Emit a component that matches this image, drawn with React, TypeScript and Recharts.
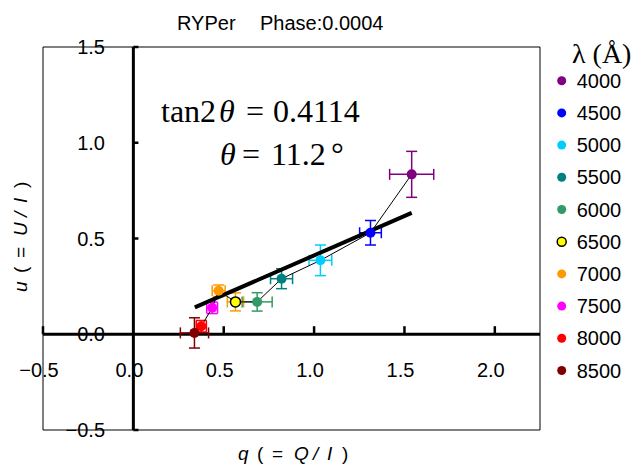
import React from 'react';
import {
  ScatterChart,
  Scatter,
  XAxis,
  YAxis,
  ErrorBar,
  ReferenceLine,
  ReferenceArea,
  Legend,
  Customized,
} from 'recharts';

// wavelength bins (Angstrom)
const wavelengths = ['4000', '4500', '5000', '5500', '6000', '6500', '7000', '7500', '8000', '8500'];
const colors = ['#800080', '#0000ff', '#00ccff', '#008080', '#339966', '#ffff00', '#ff9900', '#ff00ff', '#ff0000', '#800000'];
const errColors = ['#800080', '#0000ff', '#00ccff', '#008080', '#339966', '#f0a000', '#ff9900', '#ff00ff', '#ff0000', '#800000'];

// q = Q/I, u = U/I and their errors
const qVals = [1.54, 1.312, 1.035, 0.82, 0.685, 0.565, 0.472, 0.436, 0.376, 0.338];
const uVals = [0.835, 0.53, 0.386, 0.29, 0.169, 0.169, 0.227, 0.138, 0.042, 0.007];
const qErr = [0.122, 0.06, 0.063, 0.061, 0.083, 0.045, 0.036, 0.03, 0.028, 0.078];
const uErr = [0.12, 0.064, 0.08, 0.052, 0.048, 0.047, 0.03, 0.03, 0.03, 0.079];

// fitted line end points
const fitQ = [0.34, 1.54];
const fitU = [0.14, 0.634];

const xTicks = [-0.5, 0, 0.5, 1, 1.5, 2];
const yTicks = [-0.5, 0, 0.5, 1, 1.5];
const xTickMarks = [-0.5, 0.5, 1, 1.5, 2];
const yTickMarks = [-0.5, 0.5, 1, 1.5];

const points = wavelengths.map((w, i) => ({ q: qVals[i], u: uVals[i], ex: qErr[i], ey: uErr[i] }));
const fitData = fitQ.map((q, i) => ({ q, u: fitU[i] }));

const SANS = '"Liberation Sans", Arial, sans-serif';
const SERIF = '"Liberation Serif", "Times New Roman", serif';

const fmt = (v: number) => (v < 0 ? '\u2212' : '') + Math.abs(v).toFixed(1);

const XTick = (props: any) => (
  <text x={props.x - 4} y={377} textAnchor="middle" fontFamily={SANS} fontSize={20} fill="#000">
    {fmt(props.payload.value)}
  </text>
);

const YTick = (props: any) => (
  <text x={105} y={props.y + 7} textAnchor="end" fontFamily={SANS} fontSize={20} fill="#000">
    {fmt(props.payload.value)}
  </text>
);

const noShape = () => <g />;

// axis title pieces laid out like the original's wide spaced label
const labelPieces = (v: string, V: string) => [
  { t: v, dx: 0, it: true },
  { t: '(', dx: 19, it: false },
  { t: '=', dx: 34, it: false },
  { t: V, dx: 56, it: true },
  { t: '/', dx: 75, it: true },
  { t: 'I', dx: 89, it: true },
  { t: ')', dx: 104, it: false },
];

const AxisTitle = ({ v, V, transform }: any) => (
  <g transform={transform}>
    <text y={0} fontFamily={SANS} fontSize={19} fill="#000">
      {labelPieces(v, V).map((p, i) => (
        <tspan key={i} x={p.dx} fontStyle={p.it ? 'italic' : 'normal'}>
          {p.t}
        </tspan>
      ))}
    </text>
  </g>
);

const Annotations = () => (
  <g>
    <text x={177} y={30} fontFamily={SANS} fontSize={20} fill="#000">RYPer</text>
    <text x={260} y={30} fontFamily={SANS} fontSize={20} fill="#000">Phase:0.0004</text>

    <text y={122} fontFamily={SERIF} fontSize={32} fill="#000">
      <tspan x={161}>tan2</tspan>
      <tspan x={219} fontStyle="italic">θ</tspan>
      <tspan x={246}>=</tspan>
      <tspan x={273}>0.4114</tspan>
    </text>
    <text y={165} fontFamily={SERIF} fontSize={32} fill="#000">
      <tspan x={220} fontStyle="italic">θ</tspan>
      <tspan x={242}>=</tspan>
      <tspan x={271}>11.2</tspan>
      <tspan x={331}>°</tspan>
    </text>

    <AxisTitle v="q" V="Q" transform="translate(238,460)" />
    <AxisTitle v="u" V="U" transform="translate(27,292) rotate(-90)" />
  </g>
);

const renderLegend = () => (
  <svg width={92} height={360}>
    <text x={24} y={33} fontFamily={SERIF} fontSize={28} fill="#000">λ (Å)</text>
    {wavelengths.map((w, i) => {
      const cy = 50.7 + i * 32.2;
      return (
        <g key={w}>
          <circle cx={13.7} cy={cy} r={4.5} fill={colors[i]} stroke={i === 5 ? '#000' : 'none'} strokeWidth={1.5} />
          <text x={28.7} y={cy + 7} fontFamily={SANS} fontSize={20} fill="#000">{w}</text>
        </g>
      );
    })}
  </svg>
);

export default function App() {
  return (
    <div style={{ position: 'absolute', left: 0, top: 0, width: 640, height: 467, background: '#fff' }}>
      <ScatterChart width={640} height={467} margin={{ top: 47, right: 100, bottom: 7, left: 13 }}>
        <XAxis
          type="number"
          dataKey="q"
          domain={[-0.5, 2.25]}
          ticks={xTicks}
          interval={0}
          allowDataOverflow
          height={30}
          axisLine={false}
          tickLine={false}
          tick={(p: any) => <XTick {...p} />}
        />
        <YAxis
          type="number"
          dataKey="u"
          domain={[-0.5, 1.5]}
          ticks={yTicks}
          interval={0}
          allowDataOverflow
          width={30}
          axisLine={false}
          tickLine={false}
          tick={(p: any) => <YTick {...p} />}
        />
        <ReferenceArea x1={-0.5} x2={2.25} y1={-0.5} y2={1.5} fill="none" stroke="#000" strokeWidth={1} ifOverflow="visible" />
        <ReferenceLine x={0} stroke="#000" strokeWidth={3} />
        <ReferenceLine y={0} stroke="#000" strokeWidth={3} />
        {xTickMarks.map((t) => (
          <ReferenceLine key={`xt${t}`} segment={[{ x: t, y: 0 }, { x: t, y: 0.042 }]} stroke="#000" strokeWidth={2.5} ifOverflow="visible" />
        ))}
        {yTickMarks.map((t) => (
          <ReferenceLine key={`yt${t}`} segment={[{ x: 0, y: t }, { x: 0.028, y: t }]} stroke="#000" strokeWidth={2.5} ifOverflow="visible" />
        ))}

        <Scatter data={fitData} line={{ stroke: '#000', strokeWidth: 4 }} shape={noShape} isAnimationActive={false} legendType="none" />
        <Scatter data={points} line={{ stroke: '#000', strokeWidth: 1 }} shape={noShape} isAnimationActive={false} legendType="none" />

        {points.map((p, i) => (
          <Scatter
            key={wavelengths[i]}
            name={wavelengths[i]}
            data={[p]}
            isAnimationActive={false}
            shape={(props: any) => (
              <circle
                cx={props.cx}
                cy={props.cy}
                r={5}
                fill={colors[i]}
                stroke={i === 5 ? '#000' : 'none'}
                strokeWidth={1.5}
              />
            )}
          >
            <ErrorBar dataKey="ex" direction="x" width={5.5} stroke={errColors[i]} strokeWidth={1.5} />
            <ErrorBar dataKey="ey" direction="y" width={5.5} stroke={errColors[i]} strokeWidth={1.5} />
          </Scatter>
        ))}

        <Legend
          layout="vertical"
          align="center"
          verticalAlign="middle"
          content={renderLegend}
          wrapperStyle={{ left: 548, top: 30, width: 92, height: 360 }}
        />
        <Customized component={Annotations} />
      </ScatterChart>
    </div>
  );
}
